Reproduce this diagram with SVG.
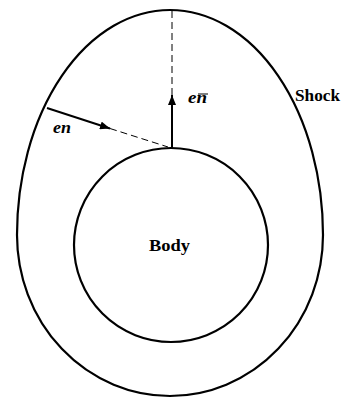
<svg xmlns="http://www.w3.org/2000/svg" width="342" height="399" viewBox="0 0 342 399">
<style>
.curve{fill:none;stroke:#000;stroke-width:2.2}
.solid{stroke:#000;stroke-width:2;fill:none}
.dash{stroke:#000;stroke-width:1;stroke-dasharray:7,4;fill:none}
.lbl{font-family:"Liberation Serif",serif;font-weight:bold;fill:#000}
</style>
<defs>
<marker id="ah" viewBox="0 0 10 8" refX="10" refY="4" markerWidth="10" markerHeight="8" markerUnits="userSpaceOnUse" orient="auto">
<path d="M0,0 L10,4 L0,8 Z" fill="#000"/>
</marker>
</defs>
<g id="shock">
<path class="curve" d="M17,235 A153,225 0 0 1 323,235 A153,161 0 0 1 17,235 Z"/>
<text class="lbl" x="295" y="101" font-size="17" textLength="45" lengthAdjust="spacingAndGlyphs">Shock</text>
</g>
<g id="body">
<circle class="curve" cx="171" cy="245" r="97"/>
<text class="lbl" x="149" y="251" font-size="17" textLength="41" lengthAdjust="spacingAndGlyphs">Body</text>
</g>
<g id="connectors">
<line class="dash" x1="172" y1="95" x2="172" y2="11"/>
<line class="solid" x1="172" y1="148" x2="172" y2="95" marker-end="url(#ah)"/>
<line class="solid" x1="47" y1="108" x2="110" y2="128.5" marker-end="url(#ah)"/>
<line class="dash" x1="110" y1="128.5" x2="168" y2="147"/>
</g>
<g id="labels">
<text class="lbl" x="188" y="103" font-size="16" font-style="italic" textLength="19" lengthAdjust="spacingAndGlyphs">en</text>
<line x1="198" y1="94" x2="208" y2="94" stroke="#000" stroke-width="1"/>
<text class="lbl" x="53" y="133" font-size="16" font-style="italic" textLength="18" lengthAdjust="spacingAndGlyphs">en</text>
</g>
</svg>
